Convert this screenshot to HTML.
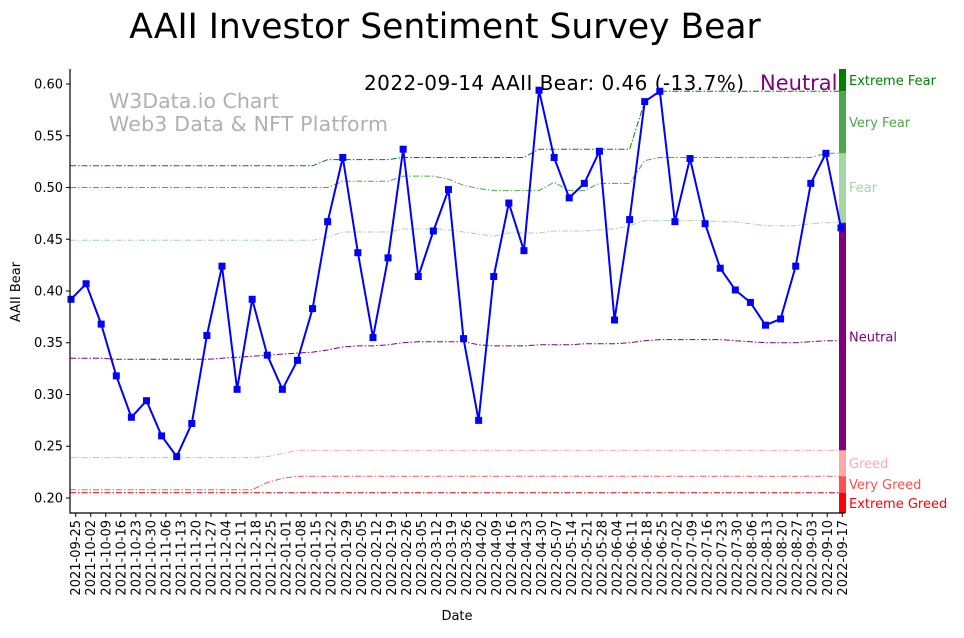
<!DOCTYPE html>
<html><head><meta charset="utf-8"><style>
body{margin:0;background:#fff}
svg{font-family:"DejaVu Sans","Liberation Sans",sans-serif}
</style></head><body>
<svg id="c" width="964" height="633" xmlns="http://www.w3.org/2000/svg">
<text x="445" y="38" font-size="34.5" text-anchor="middle">AAII Investor Sentiment Survey Bear</text>
<text x="109" y="108" font-size="20.5" fill="#b0b0b0">W3Data.io Chart</text>
<text x="109" y="131" font-size="20.5" fill="#b0b0b0" textLength="279">Web3 Data &amp; NFT Platform</text>
<text x="364" y="90" font-size="20" textLength="380">2022-09-14 AAII Bear: 0.46 (-13.7%)</text>
<text x="760" y="90" font-size="21" fill="#800080">Neutral</text>
<text x="457" y="620" font-size="13" text-anchor="middle">Date</text>
<text transform="translate(20,292) rotate(-90)" font-size="13" text-anchor="middle">AAII Bear</text>
</svg>
<script>
const bear=[0.392,0.407,0.368,0.318,0.278,0.294,0.260,0.240,0.272,0.357,0.424,0.305,0.392,0.338,0.305,0.333,0.383,0.467,0.529,0.437,0.355,0.432,0.537,0.414,0.458,0.498,0.354,0.275,0.414,0.485,0.439,0.594,0.529,0.490,0.504,0.535,0.372,0.469,0.583,0.593,0.467,0.528,0.465,0.422,0.401,0.389,0.367,0.373,0.424,0.504,0.533,0.461];
const extremeFear=[0.521,0.521,0.521,0.521,0.521,0.521,0.521,0.521,0.521,0.521,0.521,0.521,0.521,0.521,0.521,0.521,0.521,0.527,0.527,0.527,0.527,0.527,0.529,0.529,0.529,0.529,0.529,0.529,0.529,0.529,0.529,0.537,0.537,0.537,0.537,0.537,0.537,0.537,0.583,0.593,0.593,0.593,0.593,0.593,0.593,0.593,0.593,0.593,0.593,0.593,0.593,0.593];
const veryFear=[0.500,0.500,0.500,0.500,0.500,0.500,0.500,0.500,0.500,0.500,0.500,0.500,0.500,0.500,0.500,0.500,0.500,0.500,0.506,0.506,0.506,0.506,0.511,0.511,0.511,0.508,0.502,0.499,0.497,0.497,0.497,0.497,0.505,0.497,0.497,0.504,0.504,0.504,0.526,0.529,0.529,0.529,0.529,0.529,0.529,0.529,0.529,0.529,0.529,0.529,0.533,0.533];
const fear=[0.449,0.449,0.449,0.449,0.449,0.449,0.449,0.449,0.449,0.449,0.449,0.449,0.449,0.449,0.449,0.449,0.449,0.452,0.457,0.457,0.457,0.457,0.460,0.460,0.460,0.459,0.457,0.455,0.453,0.456,0.456,0.456,0.458,0.458,0.458,0.459,0.460,0.463,0.468,0.468,0.468,0.468,0.468,0.467,0.467,0.465,0.463,0.463,0.463,0.465,0.466,0.466];
const neutral=[0.335,0.335,0.335,0.334,0.334,0.334,0.334,0.334,0.334,0.334,0.335,0.336,0.337,0.338,0.339,0.340,0.341,0.343,0.346,0.347,0.347,0.348,0.350,0.351,0.351,0.351,0.351,0.348,0.347,0.347,0.347,0.348,0.348,0.348,0.349,0.349,0.349,0.350,0.352,0.353,0.353,0.353,0.353,0.353,0.352,0.351,0.350,0.350,0.350,0.351,0.352,0.352];
const greed=[0.239,0.239,0.239,0.239,0.239,0.239,0.239,0.239,0.239,0.239,0.239,0.239,0.239,0.240,0.243,0.246,0.246,0.246,0.246,0.246,0.246,0.246,0.246,0.246,0.246,0.246,0.246,0.246,0.246,0.246,0.246,0.246,0.246,0.246,0.246,0.246,0.246,0.246,0.246,0.246,0.246,0.246,0.246,0.246,0.246,0.246,0.246,0.246,0.246,0.246,0.246,0.246];
const veryGreed=[0.208,0.208,0.208,0.208,0.208,0.208,0.208,0.208,0.208,0.208,0.208,0.208,0.208,0.215,0.219,0.221,0.221,0.221,0.221,0.221,0.221,0.221,0.221,0.221,0.221,0.221,0.221,0.221,0.221,0.221,0.221,0.221,0.221,0.221,0.221,0.221,0.221,0.221,0.221,0.221,0.221,0.221,0.221,0.221,0.221,0.221,0.221,0.221,0.221,0.221,0.221,0.221];
const extremeGreed=[0.205,0.205,0.205,0.205,0.205,0.205,0.205,0.205,0.205,0.205,0.205,0.205,0.205,0.205,0.205,0.205,0.205,0.205,0.205,0.205,0.205,0.205,0.205,0.205,0.205,0.205,0.205,0.205,0.205,0.205,0.205,0.205,0.205,0.205,0.205,0.205,0.205,0.205,0.205,0.205,0.205,0.205,0.205,0.205,0.205,0.205,0.205,0.205,0.205,0.205,0.205,0.205];
const yTicks=[0.20,0.25,0.30,0.35,0.40,0.45,0.50,0.55,0.60];
const startTick='2021-09-25', nTicks=52;
const svg=document.getElementById('c');
const NS='http://www.w3.org/2000/svg';
const L=70,R=845,T=69,B=513, yMin=0.1855, yMax=0.6145;
const y=v=>B-(v-yMin)/(yMax-yMin)*(B-T);
const xi=i=>71+i*(841-71)/(bear.length-1);
const xt=k=>75.7+k*(842.3-75.7)/(nTicks-1);
function mk(tag,attrs){const e=document.createElementNS(NS,tag);for(const k in attrs)e.setAttribute(k,attrs[k]);svg.appendChild(e);return e;}
const th=[[extremeFear,'#008000','extreme-fear-line'],[veryFear,'#4ca64c','very-fear-line'],[fear,'#a6d6a6','fear-line'],[neutral,'#800080','neutral-line'],[greed,'#ffa8a8','greed-line'],[veryGreed,'#ff5050','very-greed-line'],[extremeGreed,'#e00000','extreme-greed-line']];
th.forEach(([arr,col,nm])=>{
 const e=mk('path',{d:arr.map((v,i)=>(i?'L':'M')+(i===0?L:xi(i)).toFixed(1)+','+y(v).toFixed(1)).join('')+'L840,'+y(arr[arr.length-1]).toFixed(1),fill:'none',stroke:col,'stroke-width':1,'stroke-dasharray':'6,2,1.5,2'});
 
 
});
const n=bear.length-1;
const segs=[[yMax,extremeFear[n],'#008000','extreme-fear-band','Extreme Fear'],[extremeFear[n],veryFear[n],'#4ca64c','very-fear-band','Very Fear'],[veryFear[n],fear[n],'#a6d6a6','fear-band','Fear'],[fear[n],greed[n],'#800080','neutral-band','Neutral'],[greed[n],veryGreed[n],'#ffa8a8','greed-band','Greed'],[veryGreed[n],extremeGreed[n],'#ff5050','very-greed-band','Very Greed'],[extremeGreed[n],yMin,'#ff0000','extreme-greed-band','Extreme Greed']];
segs.forEach(([a,b,col,nm,lab])=>{
 const r=mk('rect',{x:839,y:y(a),width:7,height:y(b)-y(a),fill:col});
 
 
 let ty=(y(a)+y(b))/2+5;
 if(lab==='Extreme Fear')ty=85; if(lab==='Very Fear')ty=127; if(lab==='Fear')ty=192;
 if(lab==='Greed')ty=468; if(lab==='Very Greed')ty=489; if(lab==='Extreme Greed')ty=508;
 const t=mk('text',{x:849,y:ty,'font-size':13,fill:col});
 t.textContent=lab;
 
 
});
const line=mk('path',{d:bear.map((v,i)=>(i?'L':'M')+xi(i).toFixed(1)+','+y(v).toFixed(1)).join(''),fill:'none',stroke:'#0000ff','stroke-width':2});


bear.forEach((v,i)=>{
 const m=mk('rect',{x:xi(i)-3.5,y:y(v)-3.5,width:7,height:7,fill:'#0000ff'});
 
 
});
const ax=mk('path',{d:`M${L},${T}V${B}H${R}`,fill:'none',stroke:'#000','stroke-width':1.2});


yTicks.forEach(v=>{
 const tk=mk('line',{x1:L-4,x2:L,y1:y(v),y2:y(v),stroke:'#000'});
 
 
 const t=mk('text',{x:L-7,y:y(v)+4.5,'font-size':13,'text-anchor':'end'});
 t.textContent=v.toFixed(2);
 
 
});
const d0=new Date(startTick+'T00:00:00Z');
for(let k=0;k<nTicks;k++){
 const d=new Date(d0.getTime()+k*7*864e5);
 const s=d.toISOString().slice(0,10);
 const x=xt(k);
 const tk=mk('line',{x1:x,x2:x,y1:B,y2:B+4,stroke:'#000'});
 
 
 const t=mk('text',{transform:`translate(${(x+4.5).toFixed(1)},${B+7}) rotate(-90)`,'font-size':13,'text-anchor':'end'});
 t.textContent=s;
 
 
}
</script>
</body></html>
